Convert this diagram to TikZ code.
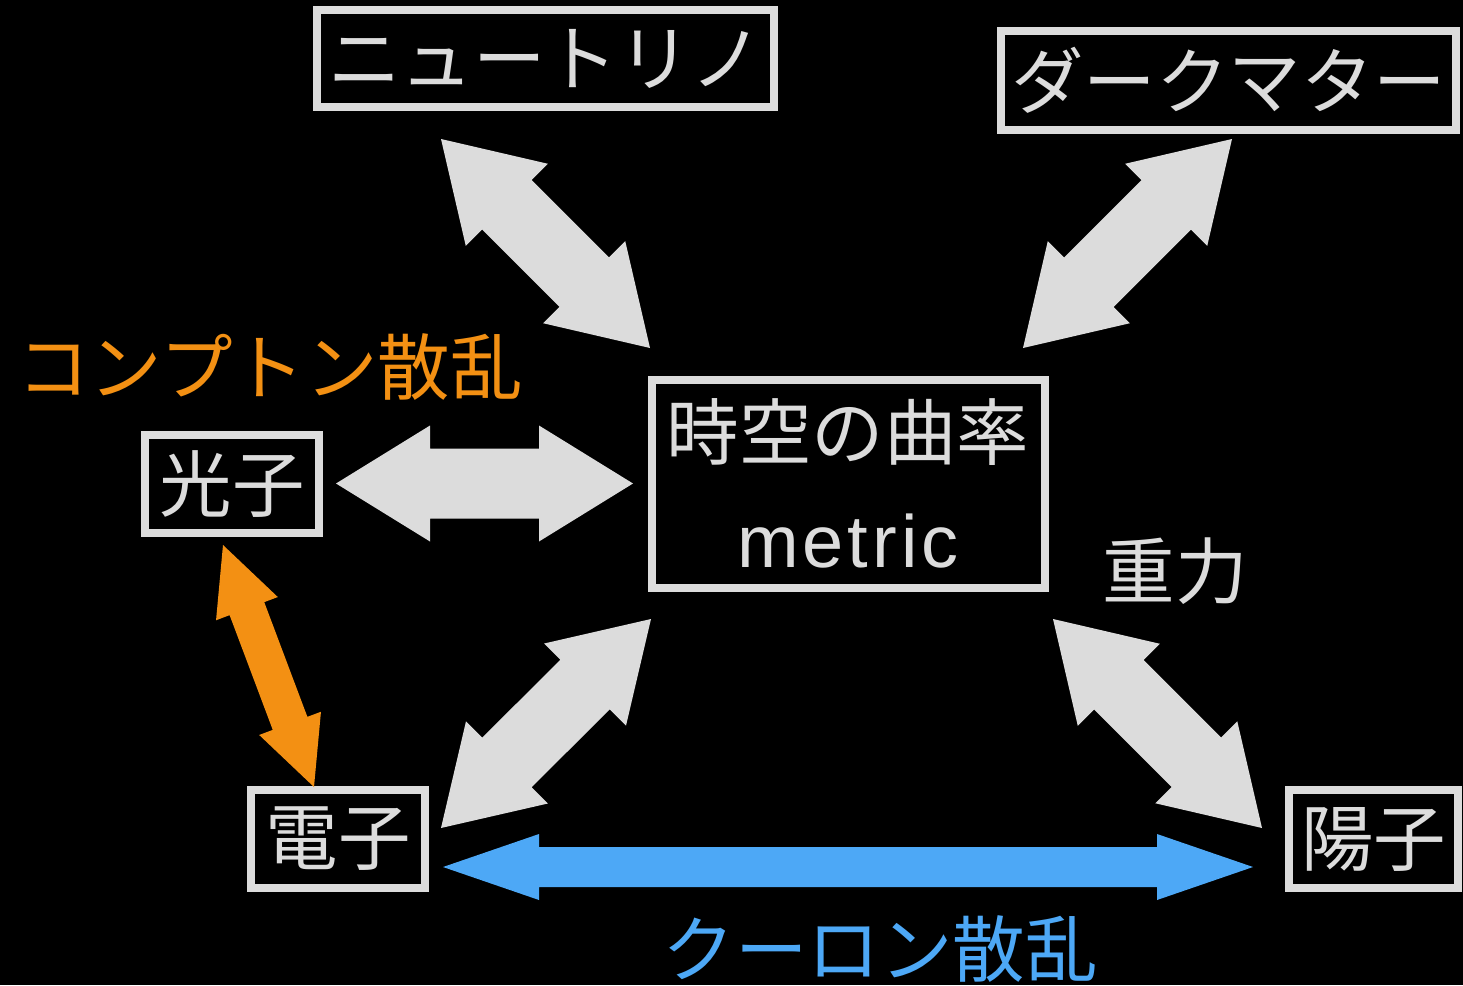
\documentclass[tikz,border=0pt]{standalone}
\usepackage{fontspec}
\setmainfont{Noto Sans CJK JP}
\newfontfamily\latinfont{Liberation Sans}[LetterSpace=5.5]
\usetikzlibrary{calc}
\definecolor{lg}{HTML}{DCDCDC}
\definecolor{orng}{HTML}{F39013}
\definecolor{blu}{HTML}{4DA8F6}
% fat double arrow: from, to, shaft half width, head half width, head length, colour
\newcommand{\fatarrow}[6]{%
  \coordinate (fa1) at ($(#1)!#5!(#2)$);
  \coordinate (fa2) at ($(#2)!#5!(#1)$);
  \fill[#6] (#1) -- ($(fa1)!#4!90:(#2)$) -- ($(fa1)!#3!90:(#2)$)
    -- ($(fa2)!#3!-90:(#1)$) -- ($(fa2)!#4!-90:(#1)$) -- (#2)
    -- ($(fa2)!#4!90:(#1)$) -- ($(fa2)!#3!90:(#1)$)
    -- ($(fa1)!#3!-90:(#2)$) -- ($(fa1)!#4!-90:(#2)$) -- cycle;
}
\tikzset{
  box/.style={draw=lg, line width=8pt, inner sep=0pt, text=lg,
    font=\fontsize{72.5}{80}\selectfont},
  lbl/.style={inner sep=0pt, font=\fontsize{72.5}{80}\selectfont},
}
\begin{document}
\begin{tikzpicture}[x=1pt,y=-1pt]
\fill[black] (0,0) rectangle (1463,985);
\useasboundingbox (0,0) rectangle (1463,985);

% boxes
\node[box, minimum width=457, minimum height=97] (nu) at (545.5,58.5) {ニュートリノ};
\node[box, minimum width=455, minimum height=99] (dm) at (1228.5,80.5) {ダークマター};
\node[box, minimum width=393, minimum height=208] (metric) at (848,484) {};
\node[lbl, text=lg] (metricjp) at (848,432) {時空の曲率};
\node[inner sep=0pt, text=lg, font=\latinfont\fontsize{74}{80}\selectfont] (metricen) at (848,541) {metric};
\node[box, minimum width=173.5, minimum height=98.5] (photon) at (232,484) {光子};
\node[box, minimum width=173.5, minimum height=97.5] (electron) at (338,839) {電子};
\node[box, minimum width=169, minimum height=97.5] (proton) at (1373.5,839) {陽子};

% labels
\node[lbl, text=orng] (compton) at (270,367) {コンプトン散乱};
\node[lbl, text=blu] (coulomb) at (880,949) {クーロン散乱};
\node[lbl, text=lg] (grav) at (1175,571) {重力};

% arrow end points
\coordinate (nuA) at (441,139);   \coordinate (nuB) at (650,348);
\coordinate (dmA) at (1232,139);  \coordinate (dmB) at (1023,348);
\coordinate (phA) at (336,483.5); \coordinate (phB) at (633,483.5);
\coordinate (elA) at (441,828);   \coordinate (elB) at (651,619);
\coordinate (prA) at (1262,828);  \coordinate (prB) at (1053,619);
\coordinate (orA) at (223,545);   \coordinate (orB) at (314,787);
\coordinate (blA) at (443,867);   \coordinate (blB) at (1253,867);

\fatarrow{nuA}{nuB}{35pt}{58pt}{93pt}{lg}
\fatarrow{dmA}{dmB}{35pt}{58pt}{93pt}{lg}
\fatarrow{phA}{phB}{35pt}{58pt}{94pt}{lg}
\fatarrow{elA}{elB}{35pt}{58pt}{93pt}{lg}
\fatarrow{prA}{prB}{35pt}{58pt}{93pt}{lg}
\fatarrow{orA}{orB}{18.5pt}{33pt}{68pt}{orng}
\fatarrow{blA}{blB}{20pt}{33pt}{96pt}{blu}
\end{tikzpicture}
\end{document}
